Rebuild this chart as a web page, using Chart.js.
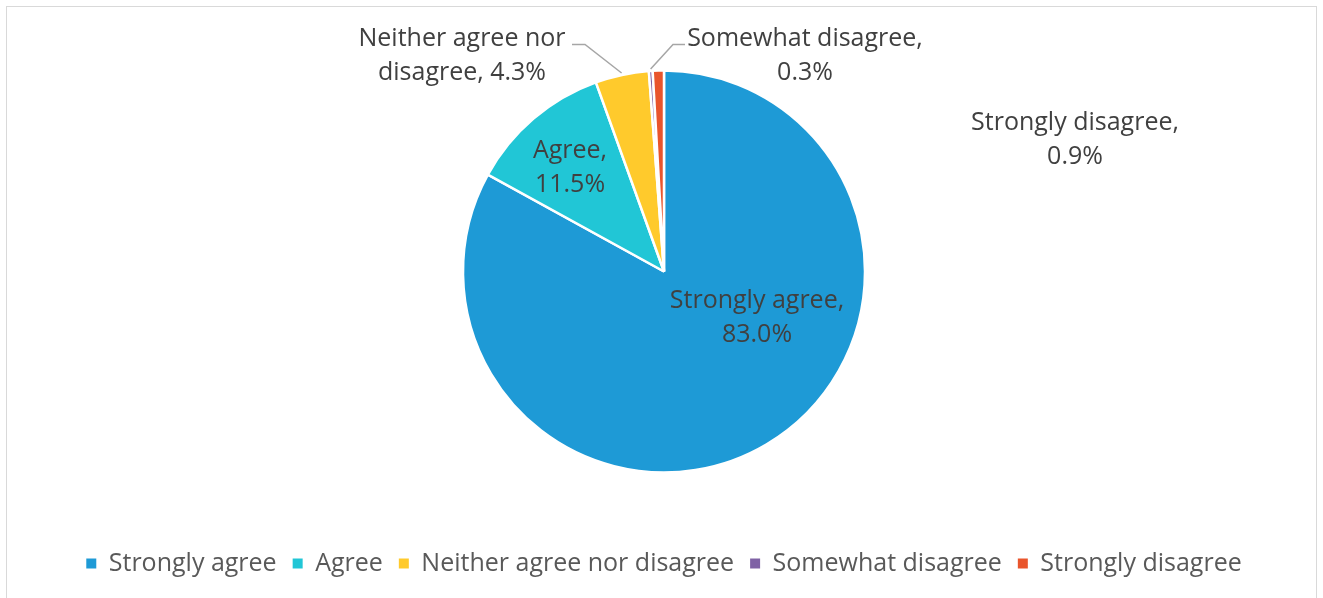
<!DOCTYPE html>
<html>
<head>
<meta charset="utf-8">
<script src="https://cdn.jsdelivr.net/npm/chart.js@4/dist/chart.umd.min.js"></script>
<style>
  html, body { margin: 0; padding: 0; background: #fff; }
  #wrap { width: 1323px; height: 598px; position: relative; }
</style>
</head>
<body>
<div id="wrap"><canvas id="pie" width="1323" height="598"></canvas></div>
<script>
const labels = ['Strongly agree', 'Agree', 'Neither agree nor disagree', 'Somewhat disagree', 'Strongly disagree'];
const shares = [83.0, 11.5, 4.3, 0.3, 0.9];
const colors = ['#1E9AD6', '#21C6D6', '#FFCA2C', '#7F62A5', '#E9552C'];

// where each data label goes, relative to the pie centre (lines of text, leader or not)
const labelSpots = [
  { lines: ['Strongly agree,', '83.0%'], dx: 93, dy: 46, leader: null },
  { lines: ['Agree,', '11.5%'], dx: -94, dy: -104, leader: null },
  { lines: ['Neither agree nor', 'disagree, 4.3%'], dx: -202, dy: -216, leader: { bendX: -79, bendY: -227, endX: -92 } },
  { lines: ['Somewhat disagree,', '0.3%'], dx: 141, dy: -216, leader: { bendX: 9, bendY: -227, endX: 21 } },
  { lines: ['Strongly disagree,', '0.9%'], dx: 411, dy: -132, leader: null }
];

const FONT = '"Open Sans", "Noto Sans", sans-serif';

const frame = {
  id: 'frame',
  beforeDraw(chart) {
    const ctx = chart.ctx;
    ctx.save();
    ctx.fillStyle = '#fff';
    ctx.fillRect(0, 0, chart.width, chart.height);
    ctx.strokeStyle = '#d9d9d9';
    ctx.lineWidth = 1;
    ctx.strokeRect(6.5, 6.5, 1310, 620);
    ctx.restore();
  }
};

const dataLabels = {
  id: 'dataLabels',
  afterDatasetsDraw(chart) {
    const ctx = chart.ctx;
    const arcs = chart.getDatasetMeta(0).data;
    ctx.save();
    ctx.font = '25px ' + FONT;
    ctx.fillStyle = '#404040';
    ctx.textBaseline = 'middle';
    arcs.forEach((arc, i) => {
      const spot = labelSpots[i];
      const cx = arc.x, cy = arc.y;
      const tx = cx + spot.dx, ty = cy + spot.dy;
      ctx.textAlign = 'center';
      spot.lines.forEach((ln, k) => ctx.fillText(ln, tx, ty + (k - (spot.lines.length - 1) / 2) * 34));
      if (spot.leader) {
        const mid = (arc.startAngle + arc.endAngle) / 2;
        const r = arc.outerRadius + 2;
        const px = cx + Math.cos(mid) * r, py = cy + Math.sin(mid) * r;
        ctx.strokeStyle = '#a6a6a6';
        ctx.lineWidth = 1.5;
        ctx.beginPath();
        ctx.moveTo(px, py);
        ctx.lineTo(cx + spot.leader.bendX, cy + spot.leader.bendY);
        ctx.lineTo(cx + spot.leader.endX, cy + spot.leader.bendY);
        ctx.stroke();
      }
    });
    ctx.restore();
  }
};

new Chart(document.getElementById('pie'), {
  type: 'pie',
  data: {
    labels: labels,
    datasets: [{
      data: shares,
      backgroundColor: colors,
      borderColor: '#fff',
      borderWidth: 2.5
    }]
  },
  options: {
    responsive: false,
    animation: false,
    radius: 201,
    layout: { padding: { left: 5, right: 0, top: 8, bottom: 12 } },
    plugins: {
      tooltip: { enabled: false },
      legend: {
        position: 'bottom',
        labels: {
          boxWidth: 10,
          boxHeight: 10,
          padding: 16,
          color: '#595959',
          font: { family: FONT, size: 25 },
          generateLabels(chart) {
            const items = Chart.overrides.pie.plugins.legend.labels.generateLabels(chart);
            items.forEach(it => { it.lineWidth = 0; it.strokeStyle = it.fillStyle; });
            return items;
          }
        }
      }
    }
  },
  plugins: [frame, dataLabels]
});
</script>
</body>
</html>
